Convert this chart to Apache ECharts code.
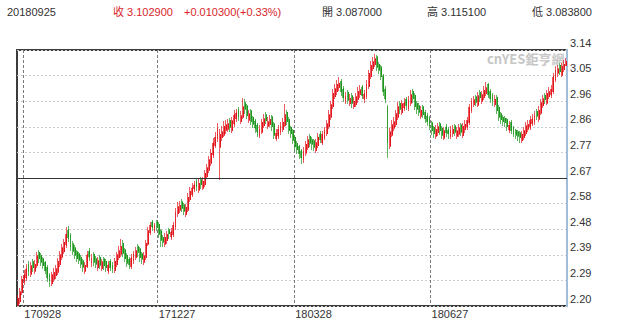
<!DOCTYPE html>
<html><head><meta charset="utf-8">
<script src="https://cdn.jsdelivr.net/npm/echarts@6/dist/echarts.min.js"></script>
<style>html,body{margin:0;padding:0;background:#fff}#c{width:620px;height:326px}#c svg path{shape-rendering:crispEdges}</style>
</head><body><div id="c"></div>
<script>
const startDate = '2017-09-25';
const endDate = '2018-09-25';
const tickLabels = ['170928', '171227', '180328', '180627'];
const yMin = 2.1968, yMax = 3.1448, yStep = 0.0948;
const refLevel = 2.6708;
const headerDate = '20180925';
const headerClose = '收 3.102900';
const headerChange = '+0.010300(+0.33%)';
const headerOpen = '開 3.087000';
const headerHigh = '高 3.115100';
const headerLow = '低 3.083800';
const watermark = 'cnYES鉅亨網';

const open = [
2.200,2.212,2.245,2.288,2.300,2.352,2.315,2.360,2.325,2.345,
2.395,2.385,2.372,2.358,2.340,2.312,2.280,2.295,2.308,2.322,
2.350,2.378,2.398,2.422,2.480,2.460,2.428,2.412,2.398,2.390,
2.378,2.365,2.325,2.342,2.402,2.355,2.388,2.372,2.338,2.378,
2.335,2.372,2.362,2.325,2.362,2.350,2.328,2.350,2.375,2.388,
2.430,2.405,2.385,2.370,2.342,2.362,2.375,2.418,2.408,2.390,
2.358,2.375,2.425,2.468,2.508,2.475,2.508,2.500,2.475,2.452,
2.425,2.438,2.480,2.452,2.460,2.488,2.538,2.552,2.582,2.572,
2.535,2.552,2.590,2.608,2.630,2.660,2.625,2.665,2.632,2.645,
2.675,2.700,2.725,2.755,2.790,2.815,2.785,2.820,2.830,2.848,
2.852,2.885,2.845,2.870,2.890,2.925,2.880,2.895,2.950,2.938,
2.885,2.920,2.895,2.882,2.868,2.828,2.840,2.865,2.905,2.862,
2.868,2.898,2.872,2.816,2.825,2.840,2.850,2.865,2.915,2.888,
2.858,2.848,2.822,2.800,2.788,2.772,2.738,2.762,2.782,2.825,
2.812,2.808,2.772,2.790,2.835,2.800,2.820,2.835,2.860,2.895,
2.935,2.972,2.990,3.005,3.030,3.002,2.955,2.988,2.945,2.975,
2.935,2.942,2.960,2.980,3.008,2.962,2.970,3.008,3.045,3.075,
3.090,3.120,3.092,3.082,3.050,3.002,2.935,2.788,2.830,2.855,
2.868,2.895,2.948,2.912,2.930,2.962,2.925,2.948,2.992,2.978,
2.948,2.938,2.900,2.935,2.915,2.902,2.892,2.875,2.858,2.825,
2.838,2.872,2.855,2.818,2.860,2.850,2.822,2.835,2.865,2.825,
2.832,2.868,2.828,2.850,2.858,2.875,2.920,2.942,2.972,2.940,
2.988,2.955,2.968,2.982,3.018,2.992,2.978,2.942,2.970,2.932,
2.908,2.895,2.892,2.888,2.848,2.878,2.858,2.848,2.842,2.838,
2.808,2.820,2.835,2.852,2.858,2.872,2.878,2.918,2.888,2.910,
2.938,2.978,2.948,2.972,2.978,2.990,3.035,3.058,3.088,3.052,
3.072,3.087
];
const close = [
2.225,2.250,2.295,2.312,2.335,2.322,2.345,2.338,2.352,2.382,
2.372,2.358,2.345,2.328,2.300,2.288,2.312,2.322,2.335,2.362,
2.386,2.412,2.432,2.462,2.448,2.415,2.400,2.385,2.372,2.366,
2.352,2.340,2.348,2.386,2.378,2.375,2.358,2.352,2.365,2.348,
2.360,2.345,2.338,2.350,2.338,2.335,2.362,2.386,2.402,2.418,
2.392,2.372,2.356,2.350,2.376,2.388,2.402,2.395,2.375,2.370,
2.382,2.430,2.475,2.495,2.488,2.495,2.488,2.462,2.440,2.432,
2.452,2.462,2.465,2.472,2.495,2.545,2.565,2.570,2.558,2.548,
2.562,2.600,2.622,2.635,2.645,2.638,2.652,2.645,2.658,2.688,
2.708,2.738,2.762,2.802,2.822,2.855,2.832,2.842,2.862,2.868,
2.872,2.858,2.882,2.905,2.912,2.895,2.902,2.935,2.925,2.902,
2.908,2.880,2.870,2.855,2.840,2.852,2.878,2.890,2.882,2.880,
2.888,2.860,2.830,2.836,2.852,2.862,2.878,2.905,2.880,2.845,
2.835,2.810,2.786,2.776,2.760,2.745,2.770,2.795,2.812,2.800,
2.795,2.785,2.802,2.822,2.812,2.832,2.848,2.872,2.905,2.942,
2.985,3.002,3.018,3.022,2.990,2.968,2.976,2.958,2.966,2.948,
2.955,2.972,2.992,2.998,2.975,2.982,3.020,3.058,3.088,3.102,
3.112,3.080,3.070,3.045,2.990,2.962,2.800,2.842,2.868,2.880,
2.908,2.935,2.925,2.945,2.950,2.938,2.960,2.980,2.965,2.935,
2.925,2.915,2.922,2.905,2.890,2.880,2.865,2.845,2.835,2.852,
2.860,2.845,2.830,2.846,2.838,2.835,2.848,2.852,2.840,2.846,
2.856,2.840,2.862,2.870,2.885,2.932,2.955,2.960,2.952,2.975,
2.968,2.980,2.995,3.005,2.980,2.965,2.955,2.962,2.920,2.895,
2.886,2.880,2.875,2.860,2.866,2.845,2.835,2.830,2.825,2.820,
2.832,2.846,2.865,2.870,2.886,2.890,2.905,2.900,2.922,2.950,
2.965,2.960,2.985,2.990,3.000,3.045,3.070,3.075,3.065,3.085,
3.0926,3.1029
];
const low = [
2.198,2.203,2.236,2.273,2.290,2.309,2.306,2.324,2.316,2.338,
2.356,2.344,2.332,2.314,2.286,2.268,2.271,2.286,2.298,2.313,
2.340,2.368,2.388,2.413,2.434,2.399,2.386,2.372,2.359,2.352,
2.339,2.324,2.316,2.336,2.364,2.340,2.344,2.337,2.328,2.334,
2.326,2.330,2.324,2.316,2.326,2.319,2.320,2.343,2.366,2.380,
2.379,2.359,2.342,2.334,2.334,2.353,2.366,2.379,2.359,2.354,
2.350,2.368,2.418,2.458,2.474,2.466,2.474,2.449,2.414,2.416,
2.416,2.428,2.446,2.443,2.453,2.480,2.528,2.540,2.544,2.534,
2.528,2.546,2.583,2.600,2.618,2.624,2.616,2.630,2.626,2.638,
2.668,2.690,2.716,2.746,2.783,2.803,2.663,2.806,2.823,2.833,
2.840,2.842,2.838,2.860,2.880,2.882,2.870,2.888,2.909,2.889,
2.876,2.866,2.856,2.839,2.824,2.820,2.833,2.856,2.869,2.853,
2.858,2.846,2.816,2.806,2.816,2.830,2.840,2.858,2.866,2.832,
2.820,2.796,2.772,2.759,2.742,2.722,2.728,2.753,2.773,2.786,
2.776,2.769,2.764,2.783,2.799,2.793,2.813,2.828,2.853,2.886,
2.928,2.963,2.980,2.993,2.976,2.952,2.946,2.944,2.936,2.929,
2.926,2.933,2.950,2.968,2.962,2.950,2.963,3.000,3.038,3.066,
3.080,3.066,3.056,3.032,2.976,2.949,2.745,2.778,2.823,2.846,
2.860,2.886,2.909,2.903,2.920,2.922,2.918,2.938,2.949,2.922,
2.909,2.899,2.890,2.892,2.874,2.864,2.849,2.829,2.819,2.816,
2.828,2.830,2.814,2.810,2.824,2.816,2.814,2.824,2.826,2.816,
2.824,2.826,2.820,2.838,2.848,2.868,2.913,2.933,2.936,2.933,
2.954,2.946,2.960,2.973,2.966,2.949,2.939,2.932,2.906,2.882,
2.872,2.864,2.859,2.846,2.838,2.832,2.822,2.814,2.806,2.799,
2.800,2.813,2.826,2.840,2.848,2.863,2.868,2.886,2.880,2.903,
2.930,2.946,2.940,2.963,2.968,2.983,3.028,3.046,3.052,3.046,
3.065,3.0838
];
const high = [
2.238,2.264,2.308,2.331,2.351,2.364,2.358,2.370,2.366,2.398,
2.404,2.392,2.380,2.364,2.347,2.320,2.324,2.336,2.348,2.374,
2.401,2.426,2.446,2.490,2.492,2.467,2.437,2.422,2.404,2.397,
2.384,2.372,2.361,2.401,2.410,2.388,2.397,2.382,2.378,2.387,
2.372,2.380,2.370,2.362,2.372,2.360,2.374,2.398,2.418,2.446,
2.440,2.412,2.392,2.378,2.388,2.401,2.416,2.427,2.414,2.398,
2.396,2.442,2.488,2.508,2.517,2.506,2.514,2.507,2.482,2.460,
2.466,2.476,2.487,2.486,2.508,2.558,2.581,2.586,2.592,2.580,
2.576,2.614,2.636,2.651,2.658,2.667,2.666,2.674,2.674,2.701,
2.724,2.751,2.778,2.818,2.841,2.874,2.851,2.864,2.881,2.886,
2.891,2.894,2.898,2.921,2.928,2.934,2.918,2.966,2.962,2.944,
2.924,2.927,2.902,2.890,2.874,2.866,2.891,2.906,2.914,2.898,
2.904,2.904,2.880,2.851,2.866,2.878,2.894,2.946,2.924,2.897,
2.864,2.854,2.830,2.807,2.794,2.780,2.784,2.808,2.826,2.834,
2.822,2.817,2.816,2.836,2.844,2.846,2.861,2.886,2.921,2.956,
3.001,3.018,3.034,3.046,3.037,3.010,2.991,2.997,2.981,2.984,
2.971,2.986,3.006,3.014,3.014,2.998,3.034,3.071,3.104,3.118,
3.130,3.127,3.100,3.090,3.057,3.010,2.942,2.856,2.884,2.896,
2.921,2.951,2.957,2.958,2.968,2.970,2.974,2.998,3.000,2.984,
2.957,2.947,2.938,2.942,2.924,2.910,2.900,2.882,2.864,2.866,
2.876,2.880,2.864,2.861,2.870,2.860,2.862,2.868,2.872,2.861,
2.871,2.874,2.874,2.884,2.898,2.946,2.968,2.976,2.980,2.988,
2.997,2.994,3.011,3.028,3.024,3.000,2.987,2.978,2.977,2.940,
2.917,2.904,2.902,2.894,2.881,2.884,2.864,2.854,2.850,2.844,
2.846,2.861,2.878,2.886,2.901,2.906,2.918,2.927,2.936,2.964,
2.978,2.987,2.998,3.006,3.016,3.058,3.084,3.091,3.097,3.098,
3.106,3.1151
];

// trading-day categories (weekdays) as yymmdd
const categories = [];
(function () {
  const end = new Date(endDate + 'T00:00:00Z');
  for (let d = new Date(startDate + 'T00:00:00Z'); d <= end; d.setUTCDate(d.getUTCDate() + 1)) {
    const wd = d.getUTCDay();
    if (wd === 0 || wd === 6) continue;
    const yy = String(d.getUTCFullYear()).slice(2);
    const mm = String(d.getUTCMonth() + 1).padStart(2, '0');
    const dd = String(d.getUTCDate()).padStart(2, '0');
    categories.push(yy + mm + dd);
  }
})();

const candleData = open.map((o, i) => [o, close[i], low[i], high[i]]);

const FONT = "'Liberation Sans','Noto Sans CJK TC',sans-serif";
const UP = '#e3161d';
const DOWN = '#1d961d';
const HEAD_RED = '#d8262c';
const TXT = '#333333';

const chart = echarts.init(document.getElementById('c'), null, { renderer: 'svg' });
chart.setOption({
  animation: false,
  backgroundColor: '#ffffff',
  grid: { left: 17, right: 53, top: 50, bottom: 20, show: true, borderColor: '#3c3c3c', borderWidth: 2 },
  xAxis: {
    type: 'category', data: categories, boundaryGap: true,
    axisLine: { show: false }, axisTick: { show: false },
    axisLabel: {
      interval: (i, v) => tickLabels.includes(v),
      align: 'left', margin: 2, fontSize: 11, color: TXT, fontFamily: FONT
    },
    splitLine: {
      show: true, interval: (i, v) => tickLabels.includes(v),
      lineStyle: { color: '#7a7a7a', type: [3, 2], width: 1 }
    }
  },
  yAxis: {
    type: 'value', position: 'right', min: yMin, max: yMax, interval: yStep,
    axisLine: { show: true, lineStyle: { color: '#9fbdd8', width: 2 } },
    axisTick: { show: false },
    axisLabel: {
      formatter: v => v.toFixed(2), fontSize: 11, color: TXT, fontFamily: FONT,
      align: 'left', verticalAlign: 'bottom', margin: 3, padding: [0, 0, 2, 0],
      showMinLabel: true, showMaxLabel: true
    },
    splitLine: { show: true, lineStyle: { color: '#cccccc', type: [2, 2], width: 1 } }
  },
  series: [{
    type: 'candlestick', data: candleData, barWidth: 1.4,
    itemStyle: { color: UP, color0: DOWN, borderColor: UP, borderColor0: DOWN, borderWidth: 0.7 },
    markLine: {
      silent: true, symbol: 'none', label: { show: false },
      lineStyle: { color: '#333333', type: 'solid', width: 1 },
      data: [{ yAxis: refLevel }]
    }
  }],
  graphic: [
    { type: 'text', left: 7, top: 6, style: { text: headerDate, fill: TXT, font: '11px ' + FONT } },
    { type: 'text', left: 113, top: 6, style: { text: headerClose, fill: HEAD_RED, font: '11px ' + FONT } },
    { type: 'text', left: 184, top: 6, style: { text: headerChange, fill: HEAD_RED, font: '11px ' + FONT } },
    { type: 'text', left: 322, top: 6, style: { text: headerOpen, fill: TXT, font: '11px ' + FONT } },
    { type: 'text', left: 427, top: 6, style: { text: headerHigh, fill: TXT, font: '11px ' + FONT } },
    { type: 'text', left: 532, top: 6, style: { text: headerLow, fill: TXT, font: '11px ' + FONT } },
    { type: 'text', left: 487, top: 52, z: 0, style: { text: watermark, fill: '#c6c6c6', font: "bold 13px 'Liberation Sans Narrow','Noto Sans CJK TC',sans-serif" } }
  ]
});
</script>
</body></html>
